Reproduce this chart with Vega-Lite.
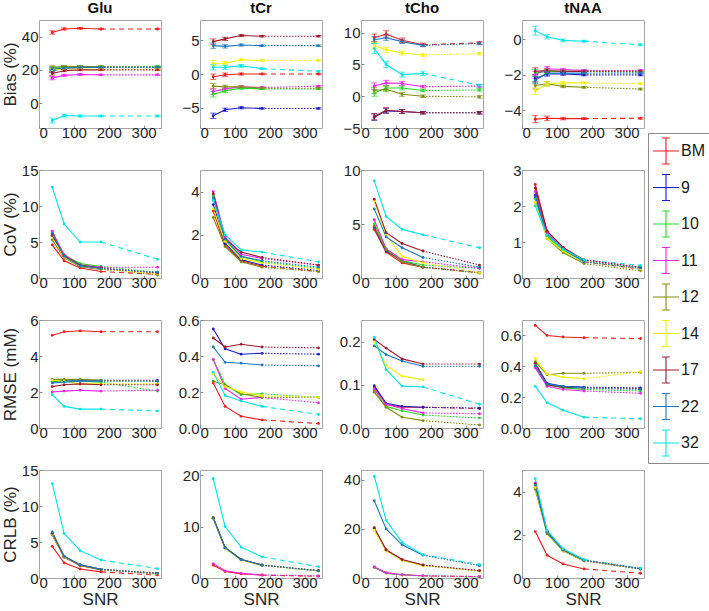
{
  "$schema": "https://vega.github.io/schema/vega-lite/v6.json",
  "background": "white",
  "padding": {"left": 0, "top": 0, "right": 0, "bottom": 0},
  "datasets": {
    "runs": [
      {"g":"BM","snr":38,"Glu_Bias":42.5,"tCr_Bias":-0.4,"tCho_Bias":9.2,"tNAA_Bias":-4.5,"Glu_BiasE":1.0,"tCr_BiasE":0.4,"tCho_BiasE":0.6,"tNAA_BiasE":0.2,"Glu_CoV":4.6,"tCr_CoV":3.1,"tCho_CoV":4.5,"tNAA_CoV":2.6,"Glu_RMSE":5.15,"tCr_RMSE":0.25,"tCho_RMSE":0.095,"tNAA_RMSE":0.665,"Glu_CRLB":4.4,"tCr_CRLB":2.5,"tCho_CRLB":4.4,"tNAA_CRLB":2.15},
      {"g":"BM","snr":72,"Glu_Bias":44.6,"tCr_Bias":-0.1,"tCho_Bias":9.8,"tNAA_Bias":-4.45,"Glu_BiasE":0.6,"tCr_BiasE":0.25,"tCho_BiasE":0.5,"tNAA_BiasE":0.12,"Glu_CoV":2.4,"tCr_CoV":1.5,"tCho_CoV":2.4,"tNAA_CoV":1.3,"Glu_RMSE":5.35,"tCr_RMSE":0.12,"tCho_RMSE":0.055,"tNAA_RMSE":0.6,"Glu_CRLB":2.1,"tCr_CRLB":1.25,"tCho_CRLB":2.1,"tNAA_CRLB":1.05},
      {"g":"BM","snr":118,"Glu_Bias":45.0,"tCr_Bias":0.0,"tCho_Bias":8.8,"tNAA_Bias":-4.47,"Glu_BiasE":0.5,"tCr_BiasE":0.15,"tCho_BiasE":0.35,"tNAA_BiasE":0.07,"Glu_CoV":1.4,"tCr_CoV":0.8,"tCho_CoV":1.4,"tNAA_CoV":0.85,"Glu_RMSE":5.4,"tCr_RMSE":0.065,"tCho_RMSE":0.048,"tNAA_RMSE":0.59,"Glu_CRLB":1.25,"tCr_CRLB":0.8,"tCho_CRLB":1.3,"tNAA_CRLB":0.65},
      {"g":"BM","snr":178,"Glu_Bias":44.6,"tCr_Bias":0.0,"tCho_Bias":8.1,"tNAA_Bias":-4.47,"Glu_BiasE":0.4,"tCr_BiasE":0.1,"tCho_BiasE":0.25,"tNAA_BiasE":0.05,"Glu_CoV":0.9,"tCr_CoV":0.55,"tCho_CoV":1.0,"tNAA_CoV":0.45,"Glu_RMSE":5.35,"tCr_RMSE":0.045,"tCho_RMSE":0.048,"tNAA_RMSE":0.585,"Glu_CRLB":0.85,"tCr_CRLB":0.55,"tCho_CRLB":0.9,"tNAA_CRLB":0.42},
      {"g":"BM","snr":340,"Glu_Bias":44.6,"tCr_Bias":0.0,"tCho_Bias":8.4,"tNAA_Bias":-4.45,"Glu_BiasE":0.4,"tCr_BiasE":0.1,"tCho_BiasE":0.2,"tNAA_BiasE":0.05,"Glu_CoV":0.5,"tCr_CoV":0.3,"tCho_CoV":0.5,"tNAA_CoV":0.25,"Glu_RMSE":5.35,"tCr_RMSE":0.025,"tCho_RMSE":0.045,"tNAA_RMSE":0.58,"Glu_CRLB":0.4,"tCr_CRLB":0.35,"tCho_CRLB":0.5,"tNAA_CRLB":0.22},

      {"g":"9","snr":38,"Glu_Bias":19.5,"tCr_Bias":-6.2,"tCho_Bias":-3.3,"tNAA_Bias":-2.2,"Glu_BiasE":1.0,"tCr_BiasE":0.4,"tCho_BiasE":0.5,"tNAA_BiasE":0.2,"Glu_CoV":6.0,"tCr_CoV":3.4,"tCho_CoV":4.7,"tNAA_CoV":2.3,"Glu_RMSE":2.55,"tCr_RMSE":0.55,"tCho_RMSE":0.098,"tNAA_RMSE":0.42,"Glu_CRLB":6.2,"tCr_CRLB":11.6,"tCho_CRLB":20.3,"tNAA_CRLB":4.2},
      {"g":"9","snr":72,"Glu_Bias":21.0,"tCr_Bias":-5.3,"tCho_Bias":-2.3,"tNAA_Bias":-1.95,"Glu_BiasE":0.6,"tCr_BiasE":0.25,"tCho_BiasE":0.4,"tNAA_BiasE":0.12,"Glu_CoV":3.0,"tCr_CoV":1.6,"tCho_CoV":2.5,"tNAA_CoV":1.2,"Glu_RMSE":2.65,"tCr_RMSE":0.44,"tCho_RMSE":0.057,"tNAA_RMSE":0.29,"Glu_CRLB":2.95,"tCr_CRLB":5.9,"tCho_CRLB":11.4,"tNAA_CRLB":2.1},
      {"g":"9","snr":118,"Glu_Bias":21.5,"tCr_Bias":-5.0,"tCho_Bias":-2.4,"tNAA_Bias":-1.95,"Glu_BiasE":0.5,"tCr_BiasE":0.15,"tCho_BiasE":0.3,"tNAA_BiasE":0.07,"Glu_CoV":1.6,"tCr_CoV":0.85,"tCho_CoV":1.6,"tNAA_CoV":0.8,"Glu_RMSE":2.65,"tCr_RMSE":0.41,"tCho_RMSE":0.05,"tNAA_RMSE":0.27,"Glu_CRLB":1.8,"tCr_CRLB":3.6,"tCho_CRLB":7.4,"tNAA_CRLB":1.28},
      {"g":"9","snr":178,"Glu_Bias":21.5,"tCr_Bias":-5.1,"tCho_Bias":-2.6,"tNAA_Bias":-2.0,"Glu_BiasE":0.4,"tCr_BiasE":0.1,"tCho_BiasE":0.2,"tNAA_BiasE":0.05,"Glu_CoV":1.2,"tCr_CoV":0.6,"tCho_CoV":1.0,"tNAA_CoV":0.45,"Glu_RMSE":2.65,"tCr_RMSE":0.415,"tCho_RMSE":0.048,"tNAA_RMSE":0.265,"Glu_CRLB":1.2,"tCr_CRLB":2.5,"tCho_CRLB":5.2,"tNAA_CRLB":0.8},
      {"g":"9","snr":340,"Glu_Bias":21.8,"tCr_Bias":-5.1,"tCho_Bias":-2.6,"tNAA_Bias":-2.0,"Glu_BiasE":0.4,"tCr_BiasE":0.1,"tCho_BiasE":0.2,"tNAA_BiasE":0.05,"Glu_CoV":0.7,"tCr_CoV":0.35,"tCho_CoV":0.5,"tNAA_CoV":0.25,"Glu_RMSE":2.65,"tCr_RMSE":0.41,"tCho_RMSE":0.046,"tNAA_RMSE":0.26,"Glu_CRLB":0.65,"tCr_CRLB":1.4,"tCho_CRLB":2.9,"tNAA_CRLB":0.42},

      {"g":"10","snr":38,"Glu_Bias":21.0,"tCr_Bias":-3.0,"tCho_Bias":0.5,"tNAA_Bias":-1.9,"Glu_BiasE":1.0,"tCr_BiasE":0.4,"tCho_BiasE":0.5,"tNAA_BiasE":0.2,"Glu_CoV":6.3,"tCr_CoV":3.8,"tCho_CoV":5.0,"tNAA_CoV":2.2,"Glu_RMSE":2.6,"tCr_RMSE":0.38,"tCho_RMSE":0.085,"tNAA_RMSE":0.41,"Glu_CRLB":6.1,"tCr_CRLB":11.7,"tCho_CRLB":4.3,"tNAA_CRLB":4.3},
      {"g":"10","snr":72,"Glu_Bias":21.8,"tCr_Bias":-2.5,"tCho_Bias":1.3,"tNAA_Bias":-1.8,"Glu_BiasE":0.6,"tCr_BiasE":0.25,"tCho_BiasE":0.4,"tNAA_BiasE":0.12,"Glu_CoV":3.2,"tCr_CoV":1.7,"tCho_CoV":2.7,"tNAA_CoV":1.15,"Glu_RMSE":2.6,"tCr_RMSE":0.24,"tCho_RMSE":0.05,"tNAA_RMSE":0.28,"Glu_CRLB":2.9,"tCr_CRLB":5.9,"tCho_CRLB":2.0,"tNAA_CRLB":2.1},
      {"g":"10","snr":118,"Glu_Bias":22.0,"tCr_Bias":-2.1,"tCho_Bias":1.3,"tNAA_Bias":-1.8,"Glu_BiasE":0.5,"tCr_BiasE":0.15,"tCho_BiasE":0.3,"tNAA_BiasE":0.07,"Glu_CoV":2.0,"tCr_CoV":1.0,"tCho_CoV":1.6,"tNAA_CoV":0.75,"Glu_RMSE":2.6,"tCr_RMSE":0.185,"tCho_RMSE":0.04,"tNAA_RMSE":0.26,"Glu_CRLB":1.75,"tCr_CRLB":3.6,"tCho_CRLB":1.2,"tNAA_CRLB":1.28},
      {"g":"10","snr":178,"Glu_Bias":22.0,"tCr_Bias":-2.2,"tCho_Bias":0.9,"tNAA_Bias":-1.8,"Glu_BiasE":0.4,"tCr_BiasE":0.1,"tCho_BiasE":0.2,"tNAA_BiasE":0.05,"Glu_CoV":1.6,"tCr_CoV":0.75,"tCho_CoV":1.2,"tNAA_CoV":0.45,"Glu_RMSE":2.55,"tCr_RMSE":0.19,"tCho_RMSE":0.03,"tNAA_RMSE":0.25,"Glu_CRLB":1.15,"tCr_CRLB":2.5,"tCho_CRLB":0.85,"tNAA_CRLB":0.8},
      {"g":"10","snr":340,"Glu_Bias":22.0,"tCr_Bias":-2.2,"tCho_Bias":1.0,"tNAA_Bias":-1.85,"Glu_BiasE":0.4,"tCr_BiasE":0.1,"tCho_BiasE":0.2,"tNAA_BiasE":0.05,"Glu_CoV":0.8,"tCr_CoV":0.45,"tCho_CoV":0.9,"tNAA_CoV":0.3,"Glu_RMSE":2.05,"tCr_RMSE":0.17,"tCho_RMSE":0.023,"tNAA_RMSE":0.24,"Glu_CRLB":0.6,"tCr_CRLB":1.4,"tCho_CRLB":0.5,"tNAA_CRLB":0.42},

      {"g":"11","snr":38,"Glu_Bias":15.0,"tCr_Bias":-2.6,"tCho_Bias":1.6,"tNAA_Bias":-2.0,"Glu_BiasE":1.0,"tCr_BiasE":0.4,"tCho_BiasE":0.5,"tNAA_BiasE":0.2,"Glu_CoV":6.5,"tCr_CoV":4.0,"tCho_CoV":5.4,"tNAA_CoV":2.4,"Glu_RMSE":2.0,"tCr_RMSE":0.38,"tCho_RMSE":0.09,"tNAA_RMSE":0.39,"Glu_CRLB":6.0,"tCr_CRLB":2.8,"tCho_CRLB":4.5,"tNAA_CRLB":4.4},
      {"g":"11","snr":72,"Glu_Bias":16.7,"tCr_Bias":-2.2,"tCho_Bias":2.1,"tNAA_Bias":-1.65,"Glu_BiasE":0.6,"tCr_BiasE":0.25,"tCho_BiasE":0.4,"tNAA_BiasE":0.12,"Glu_CoV":3.2,"tCr_CoV":1.9,"tCho_CoV":2.7,"tNAA_CoV":1.25,"Glu_RMSE":2.05,"tCr_RMSE":0.22,"tCho_RMSE":0.055,"tNAA_RMSE":0.27,"Glu_CRLB":2.9,"tCr_CRLB":1.4,"tCho_CRLB":2.1,"tNAA_CRLB":2.15},
      {"g":"11","snr":118,"Glu_Bias":17.2,"tCr_Bias":-1.9,"tCho_Bias":2.0,"tNAA_Bias":-1.7,"Glu_BiasE":0.5,"tCr_BiasE":0.15,"tCho_BiasE":0.3,"tNAA_BiasE":0.07,"Glu_CoV":1.8,"tCr_CoV":1.1,"tCho_CoV":1.7,"tNAA_CoV":0.8,"Glu_RMSE":2.1,"tCr_RMSE":0.16,"tCho_RMSE":0.045,"tNAA_RMSE":0.25,"Glu_CRLB":1.75,"tCr_CRLB":0.9,"tCho_CRLB":1.3,"tNAA_CRLB":1.3},
      {"g":"11","snr":178,"Glu_Bias":17.0,"tCr_Bias":-2.0,"tCho_Bias":1.5,"tNAA_Bias":-1.75,"Glu_BiasE":0.4,"tCr_BiasE":0.1,"tCho_BiasE":0.2,"tNAA_BiasE":0.05,"Glu_CoV":1.5,"tCr_CoV":0.9,"tCho_CoV":1.5,"tNAA_CoV":0.5,"Glu_RMSE":2.05,"tCr_RMSE":0.17,"tCho_RMSE":0.035,"tNAA_RMSE":0.24,"Glu_CRLB":1.15,"tCr_CRLB":0.6,"tCho_CRLB":0.9,"tNAA_CRLB":0.82},
      {"g":"11","snr":340,"Glu_Bias":17.0,"tCr_Bias":-1.8,"tCho_Bias":1.6,"tNAA_Bias":-1.75,"Glu_BiasE":0.4,"tCr_BiasE":0.1,"tCho_BiasE":0.2,"tNAA_BiasE":0.05,"Glu_CoV":1.5,"tCr_CoV":0.6,"tCho_CoV":0.9,"tNAA_CoV":0.3,"Glu_RMSE":2.1,"tCr_RMSE":0.14,"tCho_RMSE":0.033,"tNAA_RMSE":0.225,"Glu_CRLB":0.6,"tCr_CRLB":0.4,"tCho_CRLB":0.6,"tNAA_CRLB":0.43},

      {"g":"12","snr":38,"Glu_Bias":21.5,"tCr_Bias":-1.8,"tCho_Bias":0.9,"tNAA_Bias":-2.6,"Glu_BiasE":1.0,"tCr_BiasE":0.4,"tCho_BiasE":0.5,"tNAA_BiasE":0.2,"Glu_CoV":5.3,"tCr_CoV":2.8,"tCho_CoV":4.8,"tNAA_CoV":2.1,"Glu_RMSE":2.7,"tCr_RMSE":0.26,"tCho_RMSE":0.083,"tNAA_RMSE":0.43,"Glu_CRLB":6.0,"tCr_CRLB":11.8,"tCho_CRLB":20.0,"tNAA_CRLB":4.1},
      {"g":"12","snr":72,"Glu_Bias":22.0,"tCr_Bias":-1.9,"tCho_Bias":1.1,"tNAA_Bias":-2.5,"Glu_BiasE":0.6,"tCr_BiasE":0.25,"tCho_BiasE":0.4,"tNAA_BiasE":0.12,"Glu_CoV":2.8,"tCr_CoV":1.45,"tCho_CoV":2.6,"tNAA_CoV":1.1,"Glu_RMSE":2.7,"tCr_RMSE":0.24,"tCho_RMSE":0.048,"tNAA_RMSE":0.345,"Glu_CRLB":2.9,"tCr_CRLB":5.8,"tCho_CRLB":11.3,"tNAA_CRLB":2.05},
      {"g":"12","snr":118,"Glu_Bias":22.0,"tCr_Bias":-1.9,"tCho_Bias":0.3,"tNAA_Bias":-2.65,"Glu_BiasE":0.5,"tCr_BiasE":0.15,"tCho_BiasE":0.3,"tNAA_BiasE":0.07,"Glu_CoV":1.6,"tCr_CoV":0.75,"tCho_CoV":1.5,"tNAA_CoV":0.7,"Glu_RMSE":2.7,"tCr_RMSE":0.19,"tCho_RMSE":0.025,"tNAA_RMSE":0.355,"Glu_CRLB":1.75,"tCr_CRLB":3.6,"tCho_CRLB":7.3,"tNAA_CRLB":1.25},
      {"g":"12","snr":178,"Glu_Bias":22.0,"tCr_Bias":-2.1,"tCho_Bias":0.0,"tNAA_Bias":-2.7,"Glu_BiasE":0.4,"tCr_BiasE":0.1,"tCho_BiasE":0.2,"tNAA_BiasE":0.05,"Glu_CoV":1.3,"tCr_CoV":0.5,"tCho_CoV":1.0,"tNAA_CoV":0.4,"Glu_RMSE":2.65,"tCr_RMSE":0.17,"tCho_RMSE":0.017,"tNAA_RMSE":0.355,"Glu_CRLB":1.15,"tCr_CRLB":2.5,"tCho_CRLB":5.1,"tNAA_CRLB":0.8},
      {"g":"12","snr":340,"Glu_Bias":21.5,"tCr_Bias":-2.1,"tCho_Bias":-0.1,"tNAA_Bias":-2.8,"Glu_BiasE":0.4,"tCr_BiasE":0.1,"tCho_BiasE":0.2,"tNAA_BiasE":0.05,"Glu_CoV":0.4,"tCr_CoV":0.3,"tCho_CoV":0.45,"tNAA_CoV":0.2,"Glu_RMSE":2.6,"tCr_RMSE":0.17,"tCho_RMSE":0.007,"tNAA_RMSE":0.36,"Glu_CRLB":0.6,"tCr_CRLB":1.4,"tCho_CRLB":2.9,"tNAA_CRLB":0.42},

      {"g":"14","snr":38,"Glu_Bias":20.0,"tCr_Bias":1.6,"tCho_Bias":8.0,"tNAA_Bias":-2.9,"Glu_BiasE":1.0,"tCr_BiasE":0.4,"tCho_BiasE":0.5,"tNAA_BiasE":0.2,"Glu_CoV":5.8,"tCr_CoV":3.2,"tCho_CoV":7.1,"tNAA_CoV":2.1,"Glu_RMSE":2.65,"tCr_RMSE":0.3,"tCho_RMSE":0.2,"tNAA_RMSE":0.45,"Glu_CRLB":6.1,"tCr_CRLB":11.5,"tCho_CRLB":19.5,"tNAA_CRLB":4.2},
      {"g":"14","snr":72,"Glu_Bias":20.5,"tCr_Bias":1.6,"tCho_Bias":7.3,"tNAA_Bias":-2.5,"Glu_BiasE":0.6,"tCr_BiasE":0.25,"tCho_BiasE":0.4,"tNAA_BiasE":0.12,"Glu_CoV":2.9,"tCr_CoV":1.7,"tCho_CoV":4.0,"tNAA_CoV":1.1,"Glu_RMSE":2.6,"tCr_RMSE":0.23,"tCho_RMSE":0.145,"tNAA_RMSE":0.35,"Glu_CRLB":2.95,"tCr_CRLB":5.8,"tCho_CRLB":11.2,"tNAA_CRLB":2.1},
      {"g":"14","snr":118,"Glu_Bias":20.5,"tCr_Bias":2.1,"tCho_Bias":6.8,"tNAA_Bias":-2.45,"Glu_BiasE":0.5,"tCr_BiasE":0.15,"tCho_BiasE":0.3,"tNAA_BiasE":0.07,"Glu_CoV":1.7,"tCr_CoV":0.9,"tCho_CoV":2.0,"tNAA_CoV":0.75,"Glu_RMSE":2.45,"tCr_RMSE":0.2,"tCho_RMSE":0.12,"tNAA_RMSE":0.33,"Glu_CRLB":1.8,"tCr_CRLB":3.5,"tCho_CRLB":7.2,"tNAA_CRLB":1.27},
      {"g":"14","snr":178,"Glu_Bias":20.2,"tCr_Bias":2.0,"tCho_Bias":6.5,"tNAA_Bias":-2.45,"Glu_BiasE":0.4,"tCr_BiasE":0.1,"tCho_BiasE":0.2,"tNAA_BiasE":0.05,"Glu_CoV":1.2,"tCr_CoV":0.7,"tCho_CoV":1.4,"tNAA_CoV":0.45,"Glu_RMSE":2.45,"tCr_RMSE":0.18,"tCho_RMSE":0.112,"tNAA_RMSE":0.32,"Glu_CRLB":1.2,"tCr_CRLB":2.45,"tCho_CRLB":5.0,"tNAA_CRLB":0.8},
      {"g":"14","snr":340,"Glu_Bias":20.2,"tCr_Bias":2.0,"tCho_Bias":6.7,"tNAA_Bias":-2.5,"Glu_BiasE":0.4,"tCr_BiasE":0.1,"tCho_BiasE":0.2,"tNAA_BiasE":0.05,"Glu_CoV":0.6,"tCr_CoV":0.4,"tCho_CoV":0.5,"tNAA_CoV":0.25,"Glu_RMSE":2.45,"tCr_RMSE":0.17,"tCho_RMSE":null,"tNAA_RMSE":0.365,"Glu_CRLB":0.6,"tCr_CRLB":1.35,"tCho_CRLB":2.8,"tNAA_CRLB":0.42},

      {"g":"17","snr":38,"Glu_Bias":17.8,"tCr_Bias":4.8,"tCho_Bias":-3.2,"tNAA_Bias":-1.8,"Glu_BiasE":1.0,"tCr_BiasE":0.4,"tCho_BiasE":0.5,"tNAA_BiasE":0.2,"Glu_CoV":5.9,"tCr_CoV":3.9,"tCho_CoV":7.3,"tNAA_CoV":2.5,"Glu_RMSE":2.3,"tCr_RMSE":0.5,"tCho_RMSE":0.205,"tNAA_RMSE":0.42,"Glu_CRLB":6.2,"tCr_CRLB":11.7,"tCho_CRLB":20.5,"tNAA_CRLB":4.35},
      {"g":"17","snr":72,"Glu_Bias":19.5,"tCr_Bias":5.2,"tCho_Bias":-2.2,"tNAA_Bias":-1.75,"Glu_BiasE":0.6,"tCr_BiasE":0.25,"tCho_BiasE":0.4,"tNAA_BiasE":0.12,"Glu_CoV":3.1,"tCr_CoV":1.8,"tCho_CoV":4.2,"tNAA_CoV":1.3,"Glu_RMSE":2.4,"tCr_RMSE":0.45,"tCho_RMSE":0.185,"tNAA_RMSE":0.28,"Glu_CRLB":3.0,"tCr_CRLB":5.9,"tCho_CRLB":11.5,"tNAA_CRLB":2.15},
      {"g":"17","snr":118,"Glu_Bias":20.0,"tCr_Bias":5.7,"tCho_Bias":-2.4,"tNAA_Bias":-1.8,"Glu_BiasE":0.5,"tCr_BiasE":0.15,"tCho_BiasE":0.3,"tNAA_BiasE":0.07,"Glu_CoV":1.8,"tCr_CoV":1.2,"tCho_CoV":3.2,"tNAA_CoV":0.85,"Glu_RMSE":2.45,"tCr_RMSE":0.465,"tCho_RMSE":0.16,"tNAA_RMSE":0.265,"Glu_CRLB":1.8,"tCr_CRLB":3.6,"tCho_CRLB":7.5,"tNAA_CRLB":1.3},
      {"g":"17","snr":178,"Glu_Bias":20.0,"tCr_Bias":5.6,"tCho_Bias":-2.6,"tNAA_Bias":-1.8,"Glu_BiasE":0.4,"tCr_BiasE":0.1,"tCho_BiasE":0.2,"tNAA_BiasE":0.05,"Glu_CoV":1.4,"tCr_CoV":0.95,"tCho_CoV":2.5,"tNAA_CoV":0.5,"Glu_RMSE":2.4,"tCr_RMSE":0.45,"tCho_RMSE":0.148,"tNAA_RMSE":0.26,"Glu_CRLB":1.2,"tCr_CRLB":2.5,"tCho_CRLB":5.3,"tNAA_CRLB":0.82},
      {"g":"17","snr":340,"Glu_Bias":20.0,"tCr_Bias":5.6,"tCho_Bias":-2.6,"tNAA_Bias":-1.8,"Glu_BiasE":0.4,"tCr_BiasE":0.1,"tCho_BiasE":0.2,"tNAA_BiasE":0.05,"Glu_CoV":0.7,"tCr_CoV":0.6,"tCho_CoV":1.2,"tNAA_CoV":0.3,"Glu_RMSE":2.4,"tCr_RMSE":0.445,"tCho_RMSE":0.148,"tNAA_RMSE":0.255,"Glu_CRLB":0.65,"tCr_CRLB":1.45,"tCho_CRLB":3.0,"tNAA_CRLB":0.43},

      {"g":"22","snr":38,"Glu_Bias":20.5,"tCr_Bias":4.2,"tCho_Bias":8.9,"tNAA_Bias":-2.3,"Glu_BiasE":1.0,"tCr_BiasE":0.4,"tCho_BiasE":0.5,"tNAA_BiasE":0.2,"Glu_CoV":6.2,"tCr_CoV":3.7,"tCho_CoV":6.4,"tNAA_CoV":2.25,"Glu_RMSE":2.5,"tCr_RMSE":0.45,"tCho_RMSE":0.19,"tNAA_RMSE":0.4,"Glu_CRLB":6.4,"tCr_CRLB":11.6,"tCho_CRLB":31.5,"tNAA_CRLB":4.3},
      {"g":"22","snr":72,"Glu_Bias":21.0,"tCr_Bias":4.1,"tCho_Bias":9.2,"tNAA_Bias":-1.9,"Glu_BiasE":0.6,"tCr_BiasE":0.25,"tCho_BiasE":0.4,"tNAA_BiasE":0.12,"Glu_CoV":3.0,"tCr_CoV":1.8,"tCho_CoV":3.8,"tNAA_CoV":1.2,"Glu_RMSE":2.55,"tCr_RMSE":0.365,"tCho_RMSE":0.17,"tNAA_RMSE":0.285,"Glu_CRLB":3.05,"tCr_CRLB":5.9,"tCho_CRLB":20.0,"tNAA_CRLB":2.1},
      {"g":"22","snr":118,"Glu_Bias":21.5,"tCr_Bias":4.3,"tCho_Bias":8.6,"tNAA_Bias":-1.9,"Glu_BiasE":0.5,"tCr_BiasE":0.15,"tCho_BiasE":0.3,"tNAA_BiasE":0.07,"Glu_CoV":1.7,"tCr_CoV":1.0,"tCho_CoV":2.8,"tNAA_CoV":0.8,"Glu_RMSE":2.6,"tCr_RMSE":0.36,"tCho_RMSE":0.155,"tNAA_RMSE":0.27,"Glu_CRLB":1.85,"tCr_CRLB":3.6,"tCho_CRLB":13.5,"tNAA_CRLB":1.3},
      {"g":"22","snr":178,"Glu_Bias":21.5,"tCr_Bias":4.2,"tCho_Bias":8.0,"tNAA_Bias":-1.9,"Glu_BiasE":0.4,"tCr_BiasE":0.1,"tCho_BiasE":0.2,"tNAA_BiasE":0.05,"Glu_CoV":1.3,"tCr_CoV":0.8,"tCho_CoV":1.9,"tNAA_CoV":0.45,"Glu_RMSE":2.6,"tCr_RMSE":0.35,"tCho_RMSE":0.143,"tNAA_RMSE":0.26,"Glu_CRLB":1.2,"tCr_CRLB":2.5,"tCho_CRLB":9.3,"tNAA_CRLB":0.82},
      {"g":"22","snr":340,"Glu_Bias":21.5,"tCr_Bias":4.2,"tCho_Bias":8.3,"tNAA_Bias":-1.9,"Glu_BiasE":0.4,"tCr_BiasE":0.1,"tCho_BiasE":0.2,"tNAA_BiasE":0.05,"Glu_CoV":0.8,"tCr_CoV":0.5,"tCho_CoV":1.0,"tNAA_CoV":0.28,"Glu_RMSE":2.6,"tCr_RMSE":0.345,"tCho_RMSE":0.143,"tNAA_RMSE":0.25,"Glu_CRLB":0.65,"tCr_CRLB":1.4,"tCho_CRLB":5.0,"tNAA_CRLB":0.43},

      {"g":"32","snr":38,"Glu_Bias":-10.5,"tCr_Bias":1.0,"tCho_Bias":7.5,"tNAA_Bias":0.5,"Glu_BiasE":1.5,"tCr_BiasE":0.4,"tCho_BiasE":0.8,"tNAA_BiasE":0.25,"Glu_CoV":12.6,"tCr_CoV":3.6,"tCho_CoV":9.0,"tNAA_CoV":2.0,"Glu_RMSE":1.85,"tCr_RMSE":0.31,"tCho_RMSE":0.21,"tNAA_RMSE":0.27,"Glu_CRLB":13.1,"tCr_CRLB":19.3,"tCho_CRLB":41.5,"tNAA_CRLB":4.6},
      {"g":"32","snr":72,"Glu_Bias":-7.5,"tCr_Bias":1.0,"tCho_Bias":5.0,"tNAA_Bias":0.15,"Glu_BiasE":0.9,"tCr_BiasE":0.3,"tCho_BiasE":0.5,"tNAA_BiasE":0.12,"Glu_CoV":7.5,"tCr_CoV":2.0,"tCho_CoV":5.7,"tNAA_CoV":1.2,"Glu_RMSE":1.2,"tCr_RMSE":0.18,"tCho_RMSE":0.135,"tNAA_RMSE":0.165,"Glu_CRLB":6.2,"tCr_CRLB":10.0,"tCho_CRLB":23.5,"tNAA_CRLB":2.2},
      {"g":"32","snr":118,"Glu_Bias":-7.8,"tCr_Bias":1.2,"tCho_Bias":3.4,"tNAA_Bias":-0.05,"Glu_BiasE":0.6,"tCr_BiasE":0.2,"tCho_BiasE":0.4,"tNAA_BiasE":0.08,"Glu_CoV":5.0,"tCr_CoV":1.3,"tCho_CoV":4.5,"tNAA_CoV":0.8,"Glu_RMSE":1.05,"tCr_RMSE":0.15,"tCho_RMSE":0.097,"tNAA_RMSE":0.115,"Glu_CRLB":3.8,"tCr_CRLB":6.0,"tCho_CRLB":14.5,"tNAA_CRLB":1.35},
      {"g":"32","snr":178,"Glu_Bias":-7.8,"tCr_Bias":0.8,"tCho_Bias":3.6,"tNAA_Bias":-0.1,"Glu_BiasE":0.5,"tCr_BiasE":0.1,"tCho_BiasE":0.35,"tNAA_BiasE":0.05,"Glu_CoV":5.0,"tCr_CoV":1.2,"tCho_CoV":4.0,"tNAA_CoV":0.5,"Glu_RMSE":1.05,"tCr_RMSE":0.12,"tCho_RMSE":0.095,"tNAA_RMSE":0.07,"Glu_CRLB":2.5,"tCr_CRLB":4.1,"tCho_CRLB":9.5,"tNAA_CRLB":0.85},
      {"g":"32","snr":340,"Glu_Bias":-7.8,"tCr_Bias":0.4,"tCho_Bias":1.7,"tNAA_Bias":-0.3,"Glu_BiasE":0.5,"tCr_BiasE":0.1,"tCho_BiasE":0.2,"tNAA_BiasE":0.05,"Glu_CoV":2.6,"tCr_CoV":0.75,"tCho_CoV":2.8,"tNAA_CoV":0.35,"Glu_RMSE":0.95,"tCr_RMSE":0.075,"tCho_RMSE":0.055,"tNAA_RMSE":0.06,"Glu_CRLB":1.3,"tCr_CRLB":2.2,"tCho_CRLB":5.5,"tNAA_CRLB":0.45}
    ]
  },
  "data": {"name": "runs"},
  "columns": 4,
  "bounds": "flush",
  "spacing": {"row": 42, "column": 39},
  "concat": [
    {
      "width": 122, "height": 108,
      "title": {"text": "Glu"},
      "encoding": {
        "x": {"field": "snr", "type": "quantitative", "scale": {"domain": [0, 350]}, "axis": {"values": [0, 100, 200, 300], "title": null}},
        "y": {"field": "Glu_Bias", "type": "quantitative", "scale": {"domain": [-15, 50]}, "axis": {"values": [0, 20, 40], "title": "Bias (%)", "titleX": -20, "titleY": 54}},
        "color": {
          "field": "g", "type": "nominal", "title": null,
          "scale": {"domain": ["BM", "9", "10", "11", "12", "14", "17", "22", "32"], "range": ["#ee1c1c", "#1c1cc8", "#22dd22", "#ee22ee", "#7f8f0a", "#f2f200", "#a01a2a", "#1878c0", "#00e6e6"]},
          "legend": {"orient": "none", "legendX": 609, "legendY": 113, "symbolType": "M-1,0H1M0,-1V1M-0.3,-1H0.3M-0.3,1H0.3", "symbolSize": 676, "symbolStrokeWidth": 1, "symbolDash": [], "labelFontSize": 16, "labelColor": "#1a1a1a", "labelOffset": 1, "strokeColor": "#8c8c8c", "padding": 4, "rowPadding": 4.5, "fillColor": "white"}
        }
      },
      "layer": [
        {"transform": [{"filter": "datum.snr <= 178"}], "mark": "line"},
        {"transform": [{"filter": "datum.snr >= 178 && (datum.g == 'BM' || datum.g == '32')"}], "mark": {"type": "line", "strokeDash": [5, 4]}},
        {"transform": [{"filter": "datum.snr >= 178 && datum.g != 'BM' && datum.g != '32'"}], "mark": {"type": "line", "strokeDash": [1.5, 1.5]}},
        {"mark": {"type": "errorbar", "ticks": {"size": 6}}, "encoding": {"yError": {"field": "Glu_BiasE"}}},
        {"mark": {"type": "point", "filled": true, "size": 8, "opacity": 1}}
      ]
    },
    {
      "width": 122, "height": 108,
      "title": {"text": "tCr"},
      "encoding": {
        "x": {"field": "snr", "type": "quantitative", "scale": {"domain": [0, 350]}, "axis": {"values": [0, 100, 200, 300], "title": null}},
        "y": {"field": "tCr_Bias", "type": "quantitative", "scale": {"domain": [-8, 8]}, "axis": {"values": [-5, 0, 5], "title": null}},
        "color": {"field": "g", "type": "nominal", "title": null}
      },
      "layer": [
        {"transform": [{"filter": "datum.snr <= 178"}], "mark": "line"},
        {"transform": [{"filter": "datum.snr >= 178 && (datum.g == 'BM' || datum.g == '32')"}], "mark": {"type": "line", "strokeDash": [5, 4]}},
        {"transform": [{"filter": "datum.snr >= 178 && datum.g != 'BM' && datum.g != '32'"}], "mark": {"type": "line", "strokeDash": [1.5, 1.5]}},
        {"mark": {"type": "errorbar", "ticks": {"size": 6}}, "encoding": {"yError": {"field": "tCr_BiasE"}}},
        {"mark": {"type": "point", "filled": true, "size": 8, "opacity": 1}}
      ]
    },
    {
      "width": 122, "height": 108,
      "title": {"text": "tCho"},
      "encoding": {
        "x": {"field": "snr", "type": "quantitative", "scale": {"domain": [0, 350]}, "axis": {"values": [0, 100, 200, 300], "title": null}},
        "y": {"field": "tCho_Bias", "type": "quantitative", "scale": {"domain": [-5, 12]}, "axis": {"values": [-5, 0, 5, 10], "title": null}},
        "color": {"field": "g", "type": "nominal", "title": null}
      },
      "layer": [
        {"transform": [{"filter": "datum.snr <= 178"}], "mark": "line"},
        {"transform": [{"filter": "datum.snr >= 178 && (datum.g == 'BM' || datum.g == '32')"}], "mark": {"type": "line", "strokeDash": [5, 4]}},
        {"transform": [{"filter": "datum.snr >= 178 && datum.g != 'BM' && datum.g != '32'"}], "mark": {"type": "line", "strokeDash": [1.5, 1.5]}},
        {"mark": {"type": "errorbar", "ticks": {"size": 6}}, "encoding": {"yError": {"field": "tCho_BiasE"}}},
        {"mark": {"type": "point", "filled": true, "size": 8, "opacity": 1}}
      ]
    },
    {
      "width": 122, "height": 108,
      "title": {"text": "tNAA"},
      "encoding": {
        "x": {"field": "snr", "type": "quantitative", "scale": {"domain": [0, 350]}, "axis": {"values": [0, 100, 200, 300], "title": null}},
        "y": {"field": "tNAA_Bias", "type": "quantitative", "scale": {"domain": [-5, 1.1]}, "axis": {"values": [-4, -2, 0], "title": null}},
        "color": {"field": "g", "type": "nominal", "title": null}
      },
      "layer": [
        {"transform": [{"filter": "datum.snr <= 178"}], "mark": "line"},
        {"transform": [{"filter": "datum.snr >= 178 && (datum.g == 'BM' || datum.g == '32')"}], "mark": {"type": "line", "strokeDash": [5, 4]}},
        {"transform": [{"filter": "datum.snr >= 178 && datum.g != 'BM' && datum.g != '32'"}], "mark": {"type": "line", "strokeDash": [1.5, 1.5]}},
        {"mark": {"type": "errorbar", "ticks": {"size": 6}}, "encoding": {"yError": {"field": "tNAA_BiasE"}}},
        {"mark": {"type": "point", "filled": true, "size": 8, "opacity": 1}}
      ]
    },
    {
      "width": 122, "height": 108,
      "encoding": {
        "x": {"field": "snr", "type": "quantitative", "scale": {"domain": [0, 350]}, "axis": {"values": [0, 100, 200, 300], "title": null}},
        "y": {"field": "Glu_CoV", "type": "quantitative", "scale": {"domain": [0, 15]}, "axis": {"values": [0, 5, 10, 15], "title": "CoV (%)", "titleX": -20, "titleY": 54}},
        "color": {"field": "g", "type": "nominal", "title": null}
      },
      "layer": [
        {"transform": [{"filter": "datum.snr <= 178"}], "mark": "line"},
        {"transform": [{"filter": "datum.snr >= 178 && (datum.g == 'BM' || datum.g == '32')"}], "mark": {"type": "line", "strokeDash": [5, 4]}},
        {"transform": [{"filter": "datum.snr >= 178 && datum.g != 'BM' && datum.g != '32'"}], "mark": {"type": "line", "strokeDash": [1.5, 1.5]}},
        {"mark": {"type": "point", "filled": true, "size": 8, "opacity": 1}}
      ]
    },
    {
      "width": 122, "height": 108,
      "encoding": {
        "x": {"field": "snr", "type": "quantitative", "scale": {"domain": [0, 350]}, "axis": {"values": [0, 100, 200, 300], "title": null}},
        "y": {"field": "tCr_CoV", "type": "quantitative", "scale": {"domain": [0, 5]}, "axis": {"values": [0, 2, 4], "title": null}},
        "color": {"field": "g", "type": "nominal", "title": null}
      },
      "layer": [
        {"transform": [{"filter": "datum.snr <= 178"}], "mark": "line"},
        {"transform": [{"filter": "datum.snr >= 178 && (datum.g == 'BM' || datum.g == '32')"}], "mark": {"type": "line", "strokeDash": [5, 4]}},
        {"transform": [{"filter": "datum.snr >= 178 && datum.g != 'BM' && datum.g != '32'"}], "mark": {"type": "line", "strokeDash": [1.5, 1.5]}},
        {"mark": {"type": "point", "filled": true, "size": 8, "opacity": 1}}
      ]
    },
    {
      "width": 122, "height": 108,
      "encoding": {
        "x": {"field": "snr", "type": "quantitative", "scale": {"domain": [0, 350]}, "axis": {"values": [0, 100, 200, 300], "title": null}},
        "y": {"field": "tCho_CoV", "type": "quantitative", "scale": {"domain": [0, 10]}, "axis": {"values": [0, 5, 10], "title": null}},
        "color": {"field": "g", "type": "nominal", "title": null}
      },
      "layer": [
        {"transform": [{"filter": "datum.snr <= 178"}], "mark": "line"},
        {"transform": [{"filter": "datum.snr >= 178 && (datum.g == 'BM' || datum.g == '32')"}], "mark": {"type": "line", "strokeDash": [5, 4]}},
        {"transform": [{"filter": "datum.snr >= 178 && datum.g != 'BM' && datum.g != '32'"}], "mark": {"type": "line", "strokeDash": [1.5, 1.5]}},
        {"mark": {"type": "point", "filled": true, "size": 8, "opacity": 1}}
      ]
    },
    {
      "width": 122, "height": 108,
      "encoding": {
        "x": {"field": "snr", "type": "quantitative", "scale": {"domain": [0, 350]}, "axis": {"values": [0, 100, 200, 300], "title": null}},
        "y": {"field": "tNAA_CoV", "type": "quantitative", "scale": {"domain": [0, 3]}, "axis": {"values": [0, 1, 2, 3], "title": null}},
        "color": {"field": "g", "type": "nominal", "title": null}
      },
      "layer": [
        {"transform": [{"filter": "datum.snr <= 178"}], "mark": "line"},
        {"transform": [{"filter": "datum.snr >= 178 && (datum.g == 'BM' || datum.g == '32')"}], "mark": {"type": "line", "strokeDash": [5, 4]}},
        {"transform": [{"filter": "datum.snr >= 178 && datum.g != 'BM' && datum.g != '32'"}], "mark": {"type": "line", "strokeDash": [1.5, 1.5]}},
        {"mark": {"type": "point", "filled": true, "size": 8, "opacity": 1}}
      ]
    },
    {
      "width": 122, "height": 108,
      "encoding": {
        "x": {"field": "snr", "type": "quantitative", "scale": {"domain": [0, 350]}, "axis": {"values": [0, 100, 200, 300], "title": null}},
        "y": {"field": "Glu_RMSE", "type": "quantitative", "scale": {"domain": [0, 6]}, "axis": {"values": [0, 2, 4, 6], "title": "RMSE (mM)", "titleX": -20, "titleY": 54}},
        "color": {"field": "g", "type": "nominal", "title": null}
      },
      "layer": [
        {"transform": [{"filter": "datum.snr <= 178"}], "mark": "line"},
        {"transform": [{"filter": "datum.snr >= 178 && (datum.g == 'BM' || datum.g == '32')"}], "mark": {"type": "line", "strokeDash": [5, 4]}},
        {"transform": [{"filter": "datum.snr >= 178 && datum.g != 'BM' && datum.g != '32'"}], "mark": {"type": "line", "strokeDash": [1.5, 1.5]}},
        {"mark": {"type": "point", "filled": true, "size": 8, "opacity": 1}}
      ]
    },
    {
      "width": 122, "height": 108,
      "encoding": {
        "x": {"field": "snr", "type": "quantitative", "scale": {"domain": [0, 350]}, "axis": {"values": [0, 100, 200, 300], "title": null}},
        "y": {"field": "tCr_RMSE", "type": "quantitative", "scale": {"domain": [0, 0.6]}, "axis": {"values": [0, 0.2, 0.4, 0.6], "title": null}},
        "color": {"field": "g", "type": "nominal", "title": null}
      },
      "layer": [
        {"transform": [{"filter": "datum.snr <= 178"}], "mark": "line"},
        {"transform": [{"filter": "datum.snr >= 178 && (datum.g == 'BM' || datum.g == '32')"}], "mark": {"type": "line", "strokeDash": [5, 4]}},
        {"transform": [{"filter": "datum.snr >= 178 && datum.g != 'BM' && datum.g != '32'"}], "mark": {"type": "line", "strokeDash": [1.5, 1.5]}},
        {"mark": {"type": "point", "filled": true, "size": 8, "opacity": 1}}
      ]
    },
    {
      "width": 122, "height": 108,
      "encoding": {
        "x": {"field": "snr", "type": "quantitative", "scale": {"domain": [0, 350]}, "axis": {"values": [0, 100, 200, 300], "title": null}},
        "y": {"field": "tCho_RMSE", "type": "quantitative", "scale": {"domain": [0, 0.25]}, "axis": {"values": [0, 0.1, 0.2], "title": null}},
        "color": {"field": "g", "type": "nominal", "title": null}
      },
      "layer": [
        {"transform": [{"filter": "datum.snr <= 178"}], "mark": "line"},
        {"transform": [{"filter": "datum.snr >= 178 && (datum.g == 'BM' || datum.g == '32')"}], "mark": {"type": "line", "strokeDash": [5, 4]}},
        {"transform": [{"filter": "datum.snr >= 178 && datum.g != 'BM' && datum.g != '32'"}], "mark": {"type": "line", "strokeDash": [1.5, 1.5]}},
        {"mark": {"type": "point", "filled": true, "size": 8, "opacity": 1}}
      ]
    },
    {
      "width": 122, "height": 108,
      "encoding": {
        "x": {"field": "snr", "type": "quantitative", "scale": {"domain": [0, 350]}, "axis": {"values": [0, 100, 200, 300], "title": null}},
        "y": {"field": "tNAA_RMSE", "type": "quantitative", "scale": {"domain": [0, 0.7]}, "axis": {"values": [0, 0.2, 0.4, 0.6], "title": null}},
        "color": {"field": "g", "type": "nominal", "title": null}
      },
      "layer": [
        {"transform": [{"filter": "datum.snr <= 178"}], "mark": "line"},
        {"transform": [{"filter": "datum.snr >= 178 && (datum.g == 'BM' || datum.g == '32')"}], "mark": {"type": "line", "strokeDash": [5, 4]}},
        {"transform": [{"filter": "datum.snr >= 178 && datum.g != 'BM' && datum.g != '32'"}], "mark": {"type": "line", "strokeDash": [1.5, 1.5]}},
        {"mark": {"type": "point", "filled": true, "size": 8, "opacity": 1}}
      ]
    },
    {
      "width": 122, "height": 108,
      "encoding": {
        "x": {"field": "snr", "type": "quantitative", "scale": {"domain": [0, 350]}, "axis": {"values": [0, 100, 200, 300], "title": "SNR"}},
        "y": {"field": "Glu_CRLB", "type": "quantitative", "scale": {"domain": [0, 15]}, "axis": {"values": [0, 5, 10, 15], "title": "CRLB (%)", "titleX": -20, "titleY": 54}},
        "color": {"field": "g", "type": "nominal", "title": null}
      },
      "layer": [
        {"transform": [{"filter": "datum.snr <= 178"}], "mark": "line"},
        {"transform": [{"filter": "datum.snr >= 178 && (datum.g == 'BM' || datum.g == '32')"}], "mark": {"type": "line", "strokeDash": [5, 4]}},
        {"transform": [{"filter": "datum.snr >= 178 && datum.g != 'BM' && datum.g != '32'"}], "mark": {"type": "line", "strokeDash": [1.5, 1.5]}},
        {"mark": {"type": "point", "filled": true, "size": 8, "opacity": 1}}
      ]
    },
    {
      "width": 122, "height": 108,
      "encoding": {
        "x": {"field": "snr", "type": "quantitative", "scale": {"domain": [0, 350]}, "axis": {"values": [0, 100, 200, 300], "title": "SNR"}},
        "y": {"field": "tCr_CRLB", "type": "quantitative", "scale": {"domain": [0, 21]}, "axis": {"values": [0, 10, 20], "title": null}},
        "color": {"field": "g", "type": "nominal", "title": null}
      },
      "layer": [
        {"transform": [{"filter": "datum.snr <= 178"}], "mark": "line"},
        {"transform": [{"filter": "datum.snr >= 178 && (datum.g == 'BM' || datum.g == '32')"}], "mark": {"type": "line", "strokeDash": [5, 4]}},
        {"transform": [{"filter": "datum.snr >= 178 && datum.g != 'BM' && datum.g != '32'"}], "mark": {"type": "line", "strokeDash": [1.5, 1.5]}},
        {"mark": {"type": "point", "filled": true, "size": 8, "opacity": 1}}
      ]
    },
    {
      "width": 122, "height": 108,
      "encoding": {
        "x": {"field": "snr", "type": "quantitative", "scale": {"domain": [0, 350]}, "axis": {"values": [0, 100, 200, 300], "title": "SNR"}},
        "y": {"field": "tCho_CRLB", "type": "quantitative", "scale": {"domain": [0, 44]}, "axis": {"values": [0, 20, 40], "title": null}},
        "color": {"field": "g", "type": "nominal", "title": null}
      },
      "layer": [
        {"transform": [{"filter": "datum.snr <= 178"}], "mark": "line"},
        {"transform": [{"filter": "datum.snr >= 178 && (datum.g == 'BM' || datum.g == '32')"}], "mark": {"type": "line", "strokeDash": [5, 4]}},
        {"transform": [{"filter": "datum.snr >= 178 && datum.g != 'BM' && datum.g != '32'"}], "mark": {"type": "line", "strokeDash": [1.5, 1.5]}},
        {"mark": {"type": "point", "filled": true, "size": 8, "opacity": 1}}
      ]
    },
    {
      "width": 122, "height": 108,
      "encoding": {
        "x": {"field": "snr", "type": "quantitative", "scale": {"domain": [0, 350]}, "axis": {"values": [0, 100, 200, 300], "title": "SNR"}},
        "y": {"field": "tNAA_CRLB", "type": "quantitative", "scale": {"domain": [0, 5]}, "axis": {"values": [0, 2, 4], "title": null}},
        "color": {"field": "g", "type": "nominal", "title": null}
      },
      "layer": [
        {"transform": [{"filter": "datum.snr <= 178"}], "mark": "line"},
        {"transform": [{"filter": "datum.snr >= 178 && (datum.g == 'BM' || datum.g == '32')"}], "mark": {"type": "line", "strokeDash": [5, 4]}},
        {"transform": [{"filter": "datum.snr >= 178 && datum.g != 'BM' && datum.g != '32'"}], "mark": {"type": "line", "strokeDash": [1.5, 1.5]}},
        {"mark": {"type": "point", "filled": true, "size": 8, "opacity": 1}}
      ]
    }
  ],
  "config": {
    "font": "Liberation Sans",
    "view": {"stroke": "#a6a6a6", "strokeWidth": 1},
    "axis": {
      "grid": false,
      "domain": false,
      "tickColor": "#8c8c8c",
      "tickSize": -3,
      "labelFontSize": 15,
      "labelColor": "#262626",
      "labelPadding": 4,
      "titleFontSize": 17,
      "titleFontWeight": "normal",
      "titleColor": "#262626",
      "titlePadding": 2
    },
    "axisX": {"labelPadding": 0, "titlePadding": 1},
    "title": {"fontSize": 15, "fontWeight": "bold", "color": "#111111", "offset": 0},
    "line": {"strokeWidth": 1.1},
    "errorbar": {"thickness": 1}
  }
}
